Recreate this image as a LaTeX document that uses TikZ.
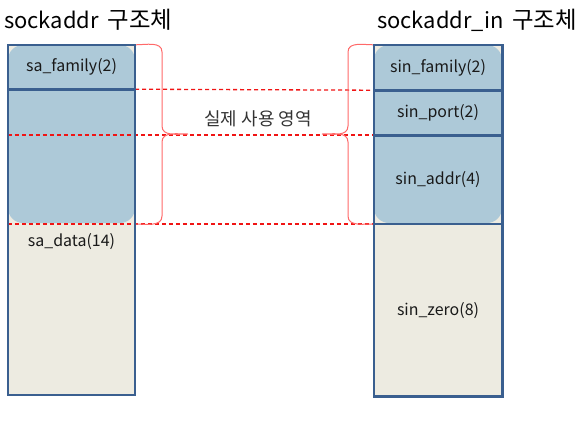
\documentclass[tikz,border=0pt]{standalone}
\usepackage{fontspec}
\setmainfont{Noto Sans CJK KR}
\usetikzlibrary{positioning}

\definecolor{fieldblue}{RGB}{173,201,216}
\definecolor{databeige}{RGB}{237,235,225}
\definecolor{edgeblue}{RGB}{58,95,143}
\definecolor{bracered}{RGB}{255,105,105}
\definecolor{usedred}{RGB}{240,20,20}

\newcommand\structname[1]{#1\hspace{0.4em}{\fontsize{23.5}{26}\selectfont 구조체}}

\tikzset{
  field/.style={minimum width=127bp, inner sep=0pt, text=black!90,
    font=\fontsize{16}{18}\selectfont},
  border/.style={draw=edgeblue, line width=2.6bp},
  usedline/.style={draw=usedred, line width=1.3bp, dash pattern=on 4bp off 3bp},
  bracket/.style={draw=bracered, line width=1bp},
  title/.style={anchor=west, inner sep=0pt, font=\fontsize{22}{24}\selectfont}
}

\begin{document}
\begin{tikzpicture}[x=1bp,y=-1bp]
  \useasboundingbox (0,0) rectangle (587,422);
  % titles
  \node[title] (ltitle) at (4,20) {\structname{sockaddr}};
  \node[title] (rtitle) at (377,20) {\structname{sockaddr\_in}};

  % column fills
  \fill[databeige] (8,45) rectangle (135,395);
  \fill[fieldblue, rounded corners=15bp] (8,45) rectangle (135,223);
  \fill[databeige] (374,45) rectangle (502,395);
  \fill[fieldblue, rounded corners=15bp] (374,45) rectangle (502,223);

  % sockaddr fields
  \node[field, minimum height=44bp] (safam) at (71.5,67) {sa\_family(2)};
  \node[field] (sadat) at (71.5,242) {sa\_data(14)};
  \coordinate (lbot) at (135,395);

  % sockaddr_in fields
  \node[field, minimum width=128bp, minimum height=45bp] (sinfam) at (438,67.5) {sin\_family(2)};
  \node[field, minimum width=128bp, minimum height=45bp, below=0pt of sinfam] (sinport) {sin\_port(2)};
  \node[field, minimum width=128bp, minimum height=88bp, below=0pt of sinport] (sinaddr) {sin\_addr(4)};
  \node[field, minimum width=128bp, minimum height=172bp, below=0pt of sinaddr] (sinzero) {sin\_zero(8)};

  % used area
  \draw[usedline] (safam.south east) -- (sinfam.south west);
  \draw[usedline] ([yshift=0.6bp]safam.west |- sinport.south) -- ([yshift=0.6bp]sinport.south west);
  \draw[usedline] (safam.west |- sinaddr.south) -- (sinaddr.south west);
  \node[font=\fontsize{18}{20}\selectfont, text=black!80] (usedlbl) at (258,119) {실제 사용 영역};

  % brackets
  \draw[bracket] (safam.north east) to[out=0,in=90] (162,52) -- (162,126)
    to[out=-90,in=180] (188,134) to[out=180,in=90] (162,142) -- (162,216)
    to[out=-90,in=0] (safam.east |- sinaddr.south);
  \draw[bracket] (sinfam.north west) to[out=180,in=90] (348,52) -- (348,126)
    to[out=-90,in=0] (322,134) to[out=0,in=90] (348,142) -- (348,216)
    to[out=-90,in=180] (sinaddr.south west);

  % borders
  \draw[border] (safam.north west) rectangle (lbot);
  \draw[border] (safam.south west) -- (safam.south east);
  \draw[border] (sinfam.north west) rectangle (sinzero.south east);
  \foreach \f in {sinfam,sinport,sinaddr}
    \draw[border] (\f.south west) -- (\f.south east);
\end{tikzpicture}
\end{document}
